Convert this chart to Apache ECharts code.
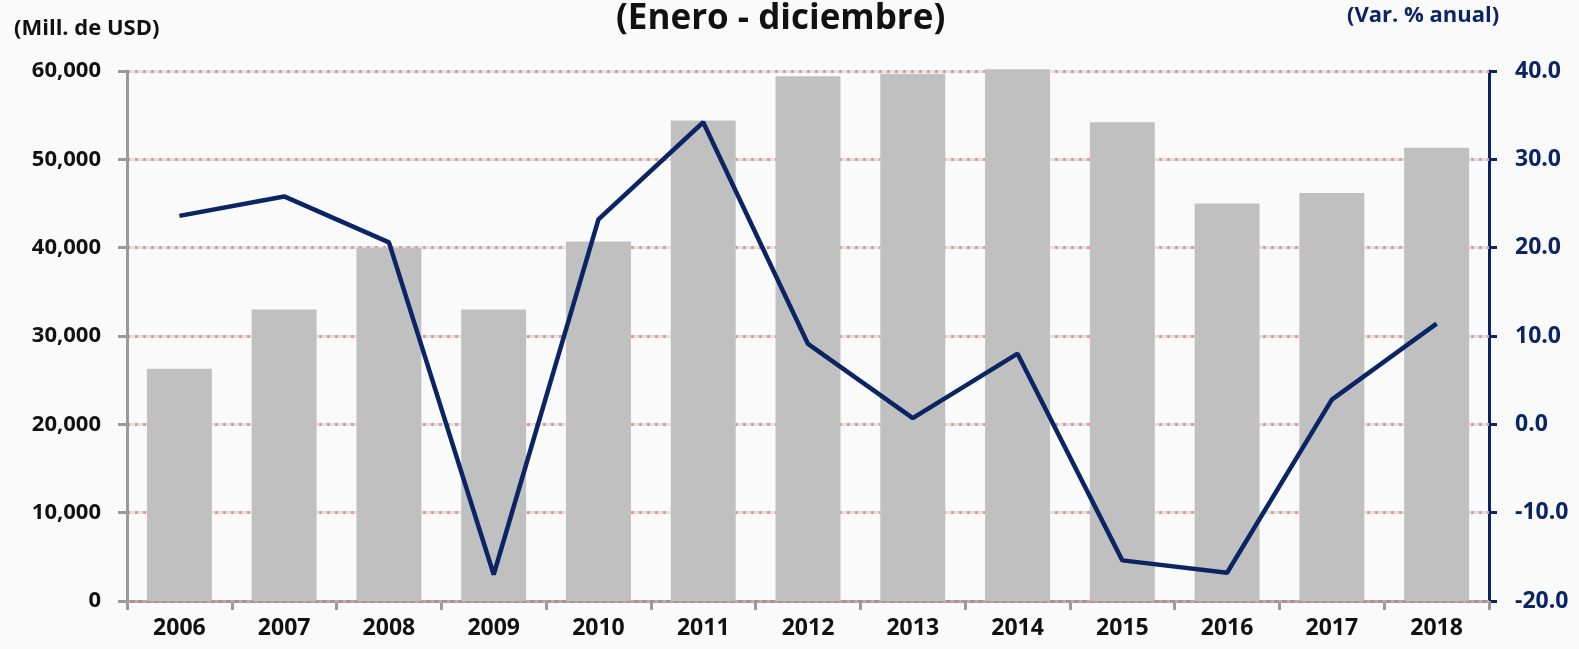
<!DOCTYPE html>
<html>
<head>
<meta charset="utf-8">
<script src="https://cdn.jsdelivr.net/npm/echarts@6/dist/echarts.min.js"></script>
<style>
  html, body { margin: 0; padding: 0; background: #fafafa; }
  #chart { width: 1579px; height: 649px; }
</style>
</head>
<body>
<div id="chart"></div>
<script>
// datos
const years = ["2006", "2007", "2008", "2009", "2010", "2011", "2012", "2013", "2014", "2015", "2016", "2017", "2018"];
const montos = [26300, 33000, 40000, 33000, 40700, 54400, 59400, 59700, 60200, 54200, 45000, 46200, 51300]; // Mill. de USD
const varAnual = [23.6, 25.8, 20.6, -17.0, 23.2, 34.2, 9.1, 0.7, 8.0, -15.4, -16.8, 2.8, 11.4]; // %
const leftTicks = { min: 0, max: 60000, step: 10000 };
const rightTicks = { min: -20, max: 40, step: 10 };

const FONT = "'Open Sans', 'Noto Sans', sans-serif";
const NAVY = "#0b2463";

const chart = echarts.init(document.getElementById("chart"));

chart.setOption({
  backgroundColor: "#fafafa",
  animation: false,
  title: {
    text: "(Enero - diciembre)",
    left: 611, top: -3,
    textStyle: { fontFamily: FONT, fontSize: 35, fontWeight: "bold", color: "#111" },
  },
  graphic: [
    { type: "text", left: 14, top: 18,
      style: { text: "(Mill. de USD)", font: `bold 22px ${FONT}`, fill: "#111" } },
    { type: "text", left: 1347, top: 5,
      style: { text: "(Var. % anual)", font: `bold 22px ${FONT}`, fill: NAVY } },
  ],
  grid: { left: 127, right: 90, top: 71, bottom: 48 },
  xAxis: {
    type: "category",
    data: years,
    boundaryGap: true,
    axisLine: { lineStyle: { color: "#9a9a9a", width: 3 } },
    axisTick: { show: true, interval: 0, length: 9, lineStyle: { color: "#9a9a9a", width: 3 } },
    axisLabel: { interval: 0, margin: 16, fontFamily: FONT, fontSize: 23, fontWeight: "bold", color: "#111" },
  },
  yAxis: [
    {
      type: "value",
      min: leftTicks.min, max: leftTicks.max, interval: leftTicks.step,
      axisLine: { show: true, lineStyle: { color: "#9a9a9a", width: 3 } },
      axisTick: { show: true, length: 9, lineStyle: { color: "#9a9a9a", width: 3 } },
      axisLabel: {
        margin: 26, fontFamily: FONT, fontSize: 22, fontWeight: "bold", color: "#111",
        formatter: v => v.toLocaleString("en-US"),
      },
      splitLine: { show: true, lineStyle: { color: "#e59a9a", width: 3, type: [3, 5] } },
      z: 1,
    },
    {
      type: "value",
      position: "right",
      min: rightTicks.min, max: rightTicks.max, interval: rightTicks.step,
      axisLine: { show: true, lineStyle: { color: NAVY, width: 3 } },
      axisTick: { show: true, length: 8, lineStyle: { color: NAVY, width: 3 } },
      axisLabel: {
        margin: 26, fontFamily: FONT, fontSize: 23, fontWeight: "bold", color: NAVY,
        formatter: v => v.toFixed(1),
      },
      splitLine: { show: true, lineStyle: { color: "#e3e3e3", width: 3 } },
      z: 0,
    },
  ],
  series: [
    {
      name: "Mill. de USD",
      type: "bar",
      data: montos,
      yAxisIndex: 0,
      barWidth: "62%",
      clip: false,
      itemStyle: { color: "#c0c0c0" },
      z: 2,
    },
    {
      name: "Var. % anual",
      type: "line",
      data: varAnual,
      yAxisIndex: 1,
      showSymbol: false,
      lineStyle: { color: NAVY, width: 4.5 },
      z: 3,
    },
  ],
});
</script>
</body>
</html>
